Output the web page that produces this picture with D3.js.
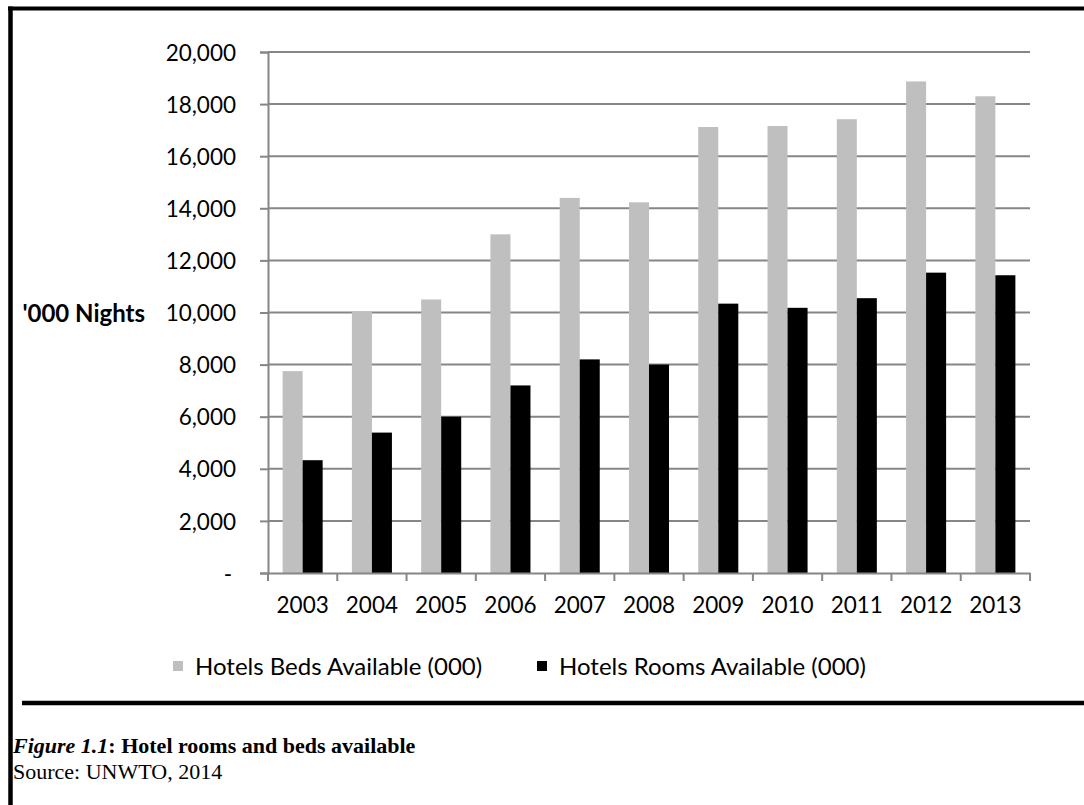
<!DOCTYPE html>
<html>
<head>
<meta charset="utf-8">
<script src="https://cdn.jsdelivr.net/npm/d3@7"></script>
<style>
  html, body { margin: 0; padding: 0; background: #fff; }
  svg { display: block; }
</style>
</head>
<body>
<svg id="chart" width="1084" height="805"></svg>
<script>
// Hotel capacity by year, thousands
const years = ["2003", "2004", "2005", "2006", "2007", "2008", "2009", "2010", "2011", "2012", "2013"];
const bedsAvailable = [7750, 10020, 10500, 13000, 14400, 14230, 17120, 17160, 17420, 18870, 18300];
const roomsAvailable = [4330, 5390, 6000, 7200, 8200, 8000, 10340, 10180, 10550, 11530, 11430];
const seriesNames = ["Hotels Beds Available (000)", "Hotels Rooms Available (000)"];
const seriesColors = ["#bfbfbf", "#000000"];
const yTicks = [0, 2000, 4000, 6000, 8000, 10000, 12000, 14000, 16000, 18000, 20000];

const svg = d3.select("#chart");
const sansFont = "Lato, 'Open Sans', sans-serif";
const serifFont = "'Liberation Serif', 'DejaVu Serif', serif";
const gridColor = "#868686";

const plot = { left: 268, right: 1030, top: 52, bottom: 573 };

const x0 = d3.scaleBand().domain(years).range([plot.left, plot.right]).paddingInner(0).paddingOuter(0);
const x1 = d3.scaleBand().domain(seriesNames).range([0, x0.bandwidth()]).paddingInner(0).paddingOuter(0.73);
const y = d3.scaleLinear().domain([0, 20000]).range([plot.bottom, plot.top]);

// Frame around the figure
svg.append("line").attr("x1", 8).attr("x2", 1084).attr("y1", 8.5).attr("y2", 8.5)
  .attr("stroke", "#000").attr("stroke-width", 4);
svg.append("line").attr("x1", 10.5).attr("x2", 10.5).attr("y1", 6.5).attr("y2", 805)
  .attr("stroke", "#000").attr("stroke-width", 4.5);
svg.append("line").attr("x1", 22).attr("x2", 1084).attr("y1", 703).attr("y2", 703)
  .attr("stroke", "#000").attr("stroke-width", 4.5);

// Horizontal gridlines
svg.append("g").selectAll("line")
  .data(yTicks.filter(d => d > 0))
  .join("line")
  .attr("x1", plot.left).attr("x2", plot.right)
  .attr("y1", d => y(d)).attr("y2", d => y(d))
  .attr("stroke", gridColor).attr("stroke-width", 2);

// Y axis with labels
const yAxis = d3.axisLeft(y)
  .tickValues(yTicks)
  .tickSize(8)
  .tickPadding(24)
  .tickFormat(d => d === 0 ? "-" : d3.format(",")(d));
const gy = svg.append("g").attr("transform", `translate(${plot.left},0)`).call(yAxis);
gy.select(".domain").attr("stroke", gridColor).attr("stroke-width", 2);
gy.selectAll(".tick line").attr("stroke", gridColor).attr("stroke-width", 2);
gy.selectAll(".tick text")
  .attr("font-family", sansFont).attr("font-size", 22.5).attr("fill", "#000")
  .attr("dy", "0.36em");
gy.selectAll(".tick").filter(d => d === 0).select("text").attr("dx", -4);

// Bars
const groups = svg.append("g").selectAll("g")
  .data(years.map((yr, i) => ({ yr, values: [bedsAvailable[i], roomsAvailable[i]] })))
  .join("g")
  .attr("transform", d => `translate(${x0(d.yr)},0)`);
groups.selectAll("rect")
  .data(d => d.values.map((v, j) => ({ key: seriesNames[j], v, j })))
  .join("rect")
  .attr("x", d => x1(d.key))
  .attr("width", x1.bandwidth())
  .attr("y", d => y(d.v))
  .attr("height", d => y(0) - y(d.v))
  .attr("fill", d => seriesColors[d.j]);

// X axis
const xAxis = d3.axisBottom(x0).tickSize(0).tickPadding(24);
const gx = svg.append("g").attr("transform", `translate(0,${plot.bottom})`).call(xAxis);
gx.select(".domain").attr("stroke", gridColor).attr("stroke-width", 2);
gx.selectAll(".tick text")
  .attr("font-family", sansFont).attr("font-size", 22.5).attr("fill", "#000");
// Category boundary tick marks
gx.append("g").selectAll("line")
  .data(years.concat(["end"]))
  .join("line")
  .attr("x1", (d, i) => i < years.length ? x0(d) : plot.right)
  .attr("x2", (d, i) => i < years.length ? x0(d) : plot.right)
  .attr("y1", 0).attr("y2", 8)
  .attr("stroke", gridColor).attr("stroke-width", 2);

// Y axis title
svg.append("text")
  .attr("x", 145).attr("y", 313).attr("dy", "0.36em")
  .attr("text-anchor", "end")
  .attr("font-family", sansFont).attr("font-size", 24).attr("font-weight", "bold")
  .text("'000 Nights");

// Legend
const legendX = [173, 537];
const legend = svg.append("g").selectAll("g")
  .data(seriesNames)
  .join("g")
  .attr("transform", (d, i) => `translate(${legendX[i]},661)`);
legend.append("rect").attr("width", 10).attr("height", 10).attr("fill", (d, i) => seriesColors[i]);
legend.append("text")
  .attr("x", 22).attr("y", 5).attr("dy", "0.36em")
  .attr("font-family", sansFont).attr("font-size", 24).attr("fill", "#000")
  .text(d => d);

// Caption
const caption = svg.append("text")
  .attr("x", 13).attr("y", 753)
  .attr("font-family", serifFont).attr("font-size", 22).attr("font-weight", "bold");
caption.append("tspan").attr("font-style", "italic").text("Figure 1.1");
caption.append("tspan").text(": Hotel rooms and beds available");
svg.append("text")
  .attr("x", 13).attr("y", 779)
  .attr("font-family", serifFont).attr("font-size", 22)
  .text("Source: UNWTO, 2014");
</script>
</body>
</html>
